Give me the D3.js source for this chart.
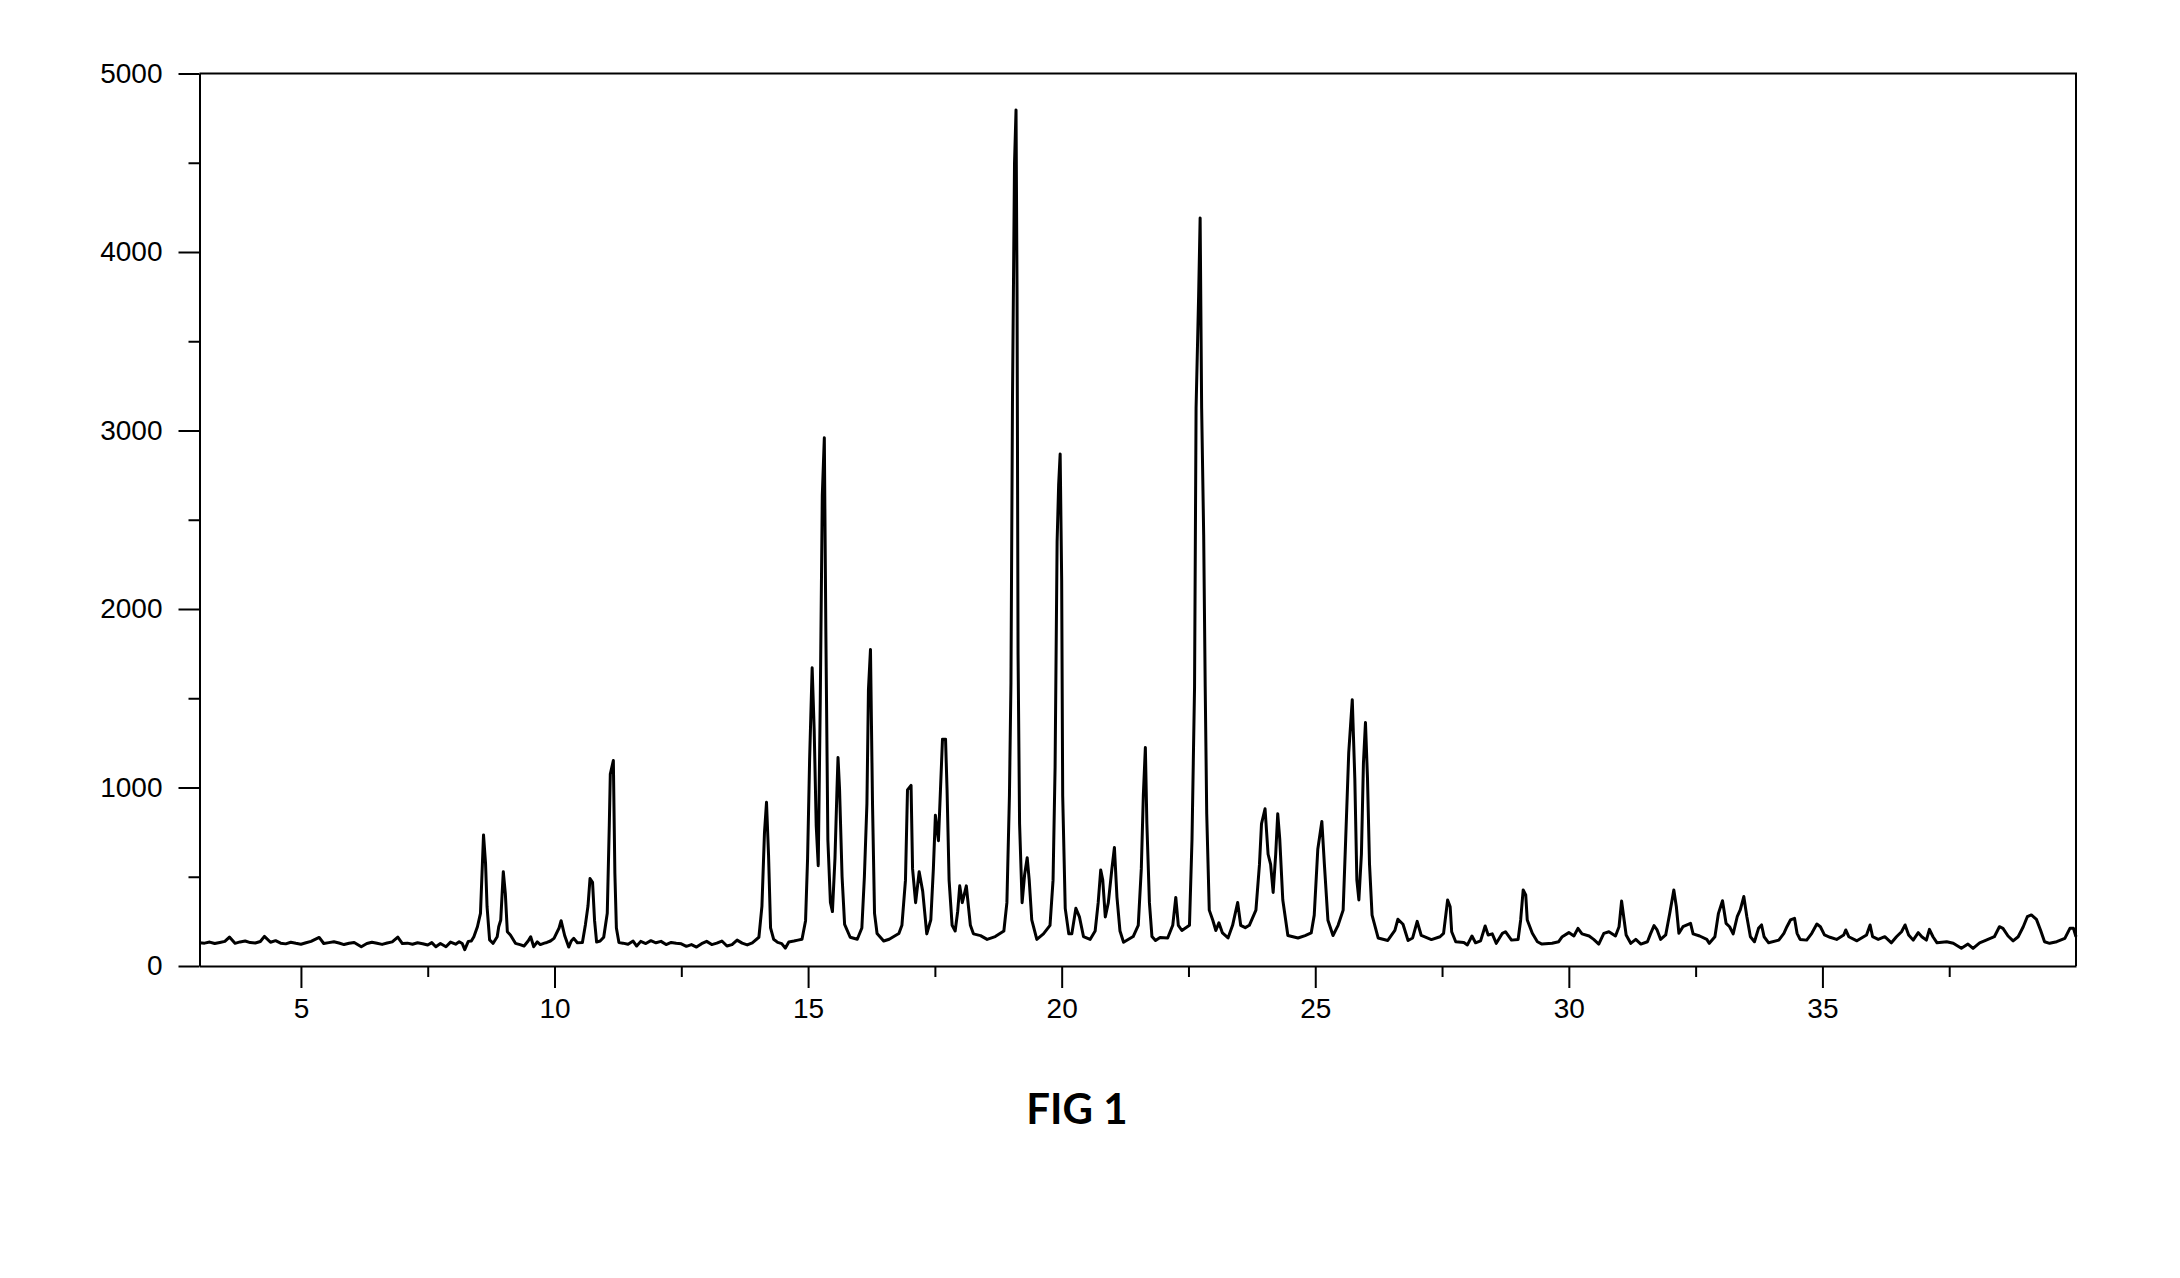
<!DOCTYPE html>
<html><head><meta charset="utf-8">
<script src="https://cdn.jsdelivr.net/npm/d3@7"></script>
<style>body{margin:0;background:#fff}svg{display:block}</style>
</head><body>
<svg id="chart" width="2180" height="1278"></svg>
<script>
// 2-theta positions (degrees)
const twoTheta = [
3.00,3.10,3.20,3.30,3.40,3.50,3.59,3.70,3.80,3.90,4.00,4.10,4.20,4.28,4.40,4.50,4.60,4.70,4.80,4.90,
5.00,5.10,5.20,5.36,5.45,5.55,5.65,5.75,5.85,5.95,6.05,6.19,6.30,6.40,6.50,6.60,6.70,6.80,6.91,7.00,
7.10,7.20,7.30,7.40,7.50,7.58,7.66,7.75,7.86,7.95,8.05,8.12,8.18,8.23,8.30,8.36,
8.41,8.48,8.54,8.60,8.64,8.67,8.72,8.79,8.87,8.90,8.94,8.99,9.03,9.07,9.13,9.23,9.32,9.40,9.48,9.53,9.59,9.66,
9.72,9.80,9.85,9.92,9.99,10.09,10.13,10.20,10.28,10.33,10.38,10.45,10.55,10.61,10.66,10.70,10.75,10.79,10.83,10.90,
10.97,11.04,11.08,11.10,11.16,11.19,11.22,11.27,
11.35,11.45,11.55,11.62,11.70,11.80,11.90,12.00,12.10,12.20,12.30,12.40,12.50,12.60,12.70,12.80,12.90,13.00,13.10,13.20,
13.30,13.40,13.50,13.60,13.70,13.80,13.90,14.03,14.09,14.14,14.18,14.22,14.26,14.32,14.40,14.48,14.55,14.62,14.72,14.80,
14.88,14.95,14.99,15.03,15.08,15.12,15.16,15.20,15.24,15.28,15.32,15.35,15.39,15.44,15.48,15.53,15.57,15.59,15.62,15.67,
15.72,15.83,15.97,16.06,16.11,16.16,16.19,16.23,16.27,16.31,16.36,16.49,16.60,16.69,16.79,16.85,16.92,16.96,17.03,17.06,
17.12,17.19,17.26,17.34,17.42,17.47,17.51,17.57,17.61,17.65,17.71,17.74,17.78,17.84,17.90,17.95,17.99,18.04,18.12,18.20,
18.26,18.40,18.53,18.69,18.86,18.92,18.97,19.00,19.03,19.07,19.10,19.12,19.14,19.17,19.22,19.27,19.32,19.36,19.41,19.51,
19.64,19.77,19.83,19.87,19.91,19.94,19.97,20.00,20.02,20.07,20.14,20.20,20.28,20.35,20.43,20.56,20.66,20.72,20.77,20.81,
20.86,20.92,20.99,21.04,21.09,21.15,21.22,21.41,21.51,21.57,21.61,21.65,21.68,21.73,21.78,21.85,21.94,22.09,22.19,22.25,
22.30,22.37,22.52,22.57,22.62,22.65,22.70,22.73,22.76,22.80,22.83,22.86,22.91,22.98,23.04,23.10,23.17,23.28,23.37,23.47,
23.53,23.62,23.70,23.83,23.90,23.94,24.01,24.07,24.12,24.17,24.22,24.26,24.30,24.36,24.46,24.66,24.80,24.92,24.98,25.05,
25.13,25.18,25.25,25.35,25.45,25.55,25.60,25.66,25.73,25.78,25.82,25.86,25.91,25.95,25.99,26.03,26.07,26.12,26.24,26.43,
26.57,26.63,26.73,26.83,26.92,27.01,27.09,27.29,27.46,27.53,27.61,27.66,27.69,27.77,27.93,28.00,28.09,28.16,28.26,28.35,
28.41,28.49,28.57,28.69,28.75,28.87,29.00,29.05,29.10,29.15,29.18,29.28,29.38,29.47,29.67,29.80,29.87,30.00,30.10,30.18,
30.26,30.40,30.49,30.59,30.69,30.79,30.92,30.99,31.04,31.09,31.13,31.22,31.32,31.42,31.55,31.61,31.68,31.74,31.81,31.91,
31.99,32.07,32.12,32.17,32.25,32.40,32.45,32.58,32.72,32.77,32.88,32.95,33.03,33.10,33.17,33.24,33.32,33.38,33.45,33.51,
33.58,33.66,33.74,33.80,33.85,33.94,34.14,34.24,34.30,34.37,34.45,34.50,34.56,34.69,34.79,34.89,34.96,35.04,35.15,35.28,
35.42,35.46,35.52,35.68,35.87,35.94,35.99,36.10,36.23,36.36,36.46,36.56,36.63,36.70,36.79,36.89,36.96,37.05,37.11,37.18,
37.26,37.45,37.58,37.74,37.87,37.97,38.10,38.23,38.39,38.49,38.56,38.66,38.76,38.86,38.96,39.04,39.12,39.22,39.30,39.38,
39.48,39.62,39.78,39.88,39.95,40.00
];
// intensity (counts) read at each position
const intensity = [
130,128,134,126,132,138,162,127,135,140,131,129,137,166,133,142,128,124,133,127,
122,130,138,160,126,131,136,129,120,127,132,108,126,133,127,121,129,135,162,126,
128,122,130,125,118,131,108,126,108,134,122,136,126,92,138,140,
164,220,295,734,575,332,146,127,164,220,258,528,407,192,174,127,120,112,140,164,108,135,
120,128,132,140,155,213,254,171,106,140,155,130,131,233,336,490,469,254,134,140,
161,295,788,1075,1151,521,213,131,
128,122,140,112,138,126,142,130,138,120,132,127,124,110,120,106,125,138,120,128,
140,112,120,145,128,118,130,161,336,747,917,623,213,150,132,125,100,135,140,145,
150,254,603,1157,1671,1322,788,562,1486,2637,2959,1876,706,356,305,603,993,1168,993,500,
233,161,150,213,500,911,1548,1773,911,295,182,140,150,165,182,228,481,987,1012,544,
355,528,418,180,259,544,844,702,987,1271,1271,987,481,228,196,307,449,355,449,228,
180,170,149,165,196,355,955,1587,3168,4496,4796,3769,1745,797,355,513,607,481,259,149,
180,228,481,1113,2378,2694,2868,2157,955,323,180,180,323,275,165,149,196,355,538,481,
275,355,544,664,386,196,133,165,228,544,955,1224,797,355,165,143,160,157,228,384,
228,199,228,711,1563,3124,3750,4190,3124,2415,1563,853,313,256,199,242,185,157,228,356,
228,215,228,313,569,796,881,626,569,412,626,853,711,370,171,157,170,185,285,654,
810,569,256,171,228,313,711,1194,1492,1051,483,370,626,1137,1364,1051,569,285,157,143,
199,262,234,143,157,250,171,148,164,183,370,332,192,136,132,118,168,130,141,224,
174,180,127,183,192,145,149,258,426,398,258,183,136,123,127,136,164,187,168,211,
180,168,149,123,183,192,168,220,364,258,174,127,149,123,136,180,226,202,149,174,
295,426,332,183,220,239,180,168,149,127,164,295,366,239,220,180,276,314,389,276,
164,136,211,230,164,130,145,183,220,258,267,183,149,145,183,235,220,174,161,149,
174,202,164,141,174,230,164,149,164,130,164,192,230,174,145,187,164,145,205,164,
130,136,127,99,123,99,130,145,164,220,211,168,141,164,220,276,286,261,202,136,
127,136,155,211,211,164
];
const xMajorTicks = [5, 10, 15, 20, 25, 30, 35];
const xMinorTicks = [7.5, 12.5, 17.5, 22.5, 27.5, 32.5, 37.5];
const yMajorTicks = [0, 1000, 2000, 3000, 4000, 5000];
const yMinorTicks = [500, 1500, 2500, 3500, 4500];
const figureTitle = "FIG 1";

const svg = d3.select('#chart');
const L = 199.5, R = 2076, T = 73.5, B = 966;
const x = d3.scaleLinear().domain([3, 40]).range([L, R]);
const y = d3.scaleLinear().domain([0, 5000]).range([B, T]);
const FONT = "'Liberation Sans', Arial, sans-serif";

function styleAxis(g) {
  g.selectAll('path.domain').attr('stroke', '#000').attr('stroke-width', 2);
  g.selectAll('.tick line').attr('stroke', '#000').attr('stroke-width', 2);
  g.selectAll('.tick text').attr('font-family', FONT).attr('font-size', 28).attr('fill', '#000');
}

// bottom axis
const gx = svg.append('g').attr('transform', `translate(0,${B})`)
  .call(d3.axisBottom(x).tickValues(xMajorTicks).tickFormat(d3.format('d'))
    .tickSize(22).tickPadding(10).tickSizeOuter(0));
styleAxis(gx);
const gx2 = svg.append('g').attr('transform', `translate(0,${B})`)
  .call(d3.axisBottom(x).tickValues(xMinorTicks).tickSize(11).tickFormat(''));
gx2.select('path.domain').remove();
styleAxis(gx2);

// left axis
const gy = svg.append('g').attr('transform', `translate(${L},0)`)
  .call(d3.axisLeft(y).tickValues(yMajorTicks).tickFormat(d3.format('d'))
    .tickSize(21).tickPadding(16).tickSizeOuter(0));
styleAxis(gy);
const gy2 = svg.append('g').attr('transform', `translate(${L},0)`)
  .call(d3.axisLeft(y).tickValues(yMinorTicks).tickSize(11).tickFormat(''));
gy2.select('path.domain').remove();
styleAxis(gy2);

// top & right frame
svg.append('path')
  .attr('d', `M${L},${T}H${R}V${B}`)
  .attr('fill', 'none').attr('stroke', '#000').attr('stroke-width', 2);

// pattern
const pts = d3.zip(twoTheta, intensity);
svg.append('path')
  .datum(pts)
  .attr('fill', 'none')
  .attr('stroke', '#000')
  .attr('stroke-width', 3)
  .attr('stroke-linejoin', 'round')
  .attr('d', d3.line().x(d => x(d[0])).y(d => y(d[1])));

// caption
svg.append('text')
  .attr('x', 1077).attr('y', 1124)
  .attr('text-anchor', 'middle')
  .attr('font-family', "Lato, 'Open Sans', sans-serif")
  .attr('font-weight', 700)
  .attr('font-size', 42)
  .text(figureTitle);
</script>
</body></html>
